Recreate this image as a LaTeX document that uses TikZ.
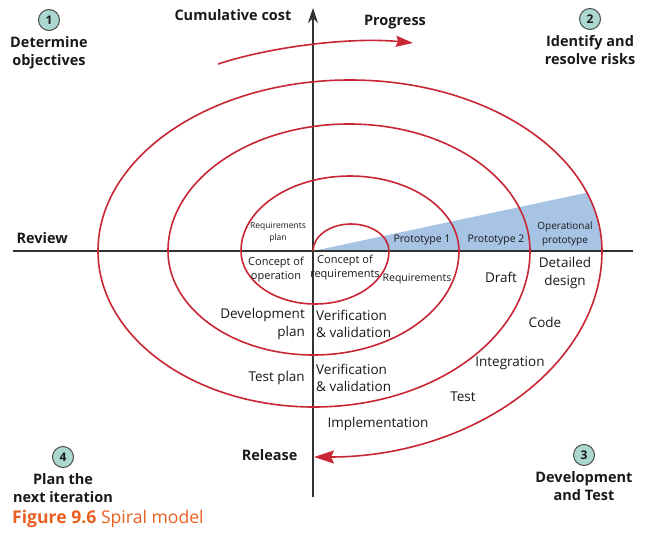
\documentclass[tikz,border=0pt]{standalone}
\usepackage{fontspec}
\setmainfont{Open Sans}
\usepackage{tikz}
\usetikzlibrary{positioning,arrows.meta}
\definecolor{spiralred}{RGB}{200,38,52}
\definecolor{wedgeblue}{RGB}{167,196,228}
\definecolor{badgefill}{RGB}{170,216,208}
\definecolor{captionorange}{RGB}{232,96,32}
\definecolor{axisgray}{RGB}{50,50,50}

\begin{document}
\begin{tikzpicture}[x=1pt,y=1pt,>=Stealth,text=black!90,
  badge/.style={circle,draw=gray!60!black,fill=badgefill,line width=1pt,minimum size=21pt,inner sep=0pt,font=\bfseries\fontsize{12}{12}\selectfont},
  quadrant/.style={align=center,inner sep=1pt,font=\bfseries\fontsize{14.5}{18.5}\selectfont},
  axislabel/.style={font=\bfseries\fontsize{14.5}{17}\selectfont},
  phase/.style={align=center,inner sep=1pt,font=\fontsize{13.5}{17.5}\selectfont},
  smallphase/.style={align=center,inner sep=1pt,font=\fontsize{10.5}{14}\selectfont},
  tinyphase/.style={align=center,inner sep=1pt,font=\fontsize{8.5}{12}\selectfont},
  spiral/.style={spiralred,line width=1.6pt}]
  \useasboundingbox (-313,-287) rectangle (339,251);
  % ---------------- prototype wedge ----------------
  \begin{scope}
    \clip (37,0) ellipse[x radius=252,y radius=171];
    \fill[wedgeblue] (0,0) -- (310,66) -- (310,0) -- cycle;
  \end{scope}
  % ---------------- axes ----------------
  \coordinate (west) at (-300,0);
  \coordinate (east) at (320,0);
  \coordinate (bottom) at (0,-246);
  \coordinate (top) at (0,243);
  \draw[axisgray,line width=1.4pt] (west) -- (east);
  \draw[axisgray,line width=1.4pt,-{Stealth[length=15pt,width=10pt]}] (bottom) -- (top);
  % ---------------- spiral ----------------
  \draw[spiral,-{Stealth[length=20pt,width=13pt,inset=3pt]}] (0,0)
    arc[start angle=180,end angle=0,x radius=38,y radius=27]
    arc[start angle=0,end angle=-180,x radius=74,y radius=53]
    arc[start angle=180,end angle=0,x radius=109,y radius=75]
    arc[start angle=0,end angle=-180,x radius=145.5,y radius=104]
    arc[start angle=180,end angle=0,x radius=181,y radius=127]
    arc[start angle=0,end angle=-180,x radius=216,y radius=156]
    arc[start angle=180,end angle=0,x radius=252,y radius=171]
    arc[start angle=0,end angle=-90,x radius=288,y radius=206];
  % progress arrow
  \coordinate (progstart) at (-95,187);
  \coordinate (progend) at (100,208);
  \draw[spiral,-{Stealth[length=17pt,width=11pt,inset=2pt]}] (progstart) .. controls (-40,205) and (40,214) .. (progend);
  % ---------------- axis labels ----------------
  \node[axislabel,anchor=east] (cost) at (-18,236) {Cumulative cost};
  \node[axislabel] (progress) at (82,229) {Progress};
  \node[axislabel,anchor=west] (review) at (-300,13) {Review};
  \node[axislabel,anchor=east] (release) at (-12,-204) {Release};
  % ---------------- quadrants ----------------
  \node[badge] (q1) at (-264,231) {1};
  \node[quadrant,below=4pt of q1] (q1text) {Determine\\objectives};
  \node[badge] (q2) at (277,232) {2};
  \node[quadrant,below=4pt of q2] (q2text) {Identify and\\resolve risks};
  \node[badge] (q3) at (271,-204) {3};
  \node[quadrant,below=4pt of q3] (q3text) {Development\\and Test};
  \node[badge] (q4) at (-250,-206) {4};
  \node[quadrant,below=4pt of q4] (q4text) {Plan the\\next iteration};
  % ---------------- phases ----------------
  \node[tinyphase] (reqplan) at (-35,19) {Requirements\\plan};
  \node[smallphase] (proto1) at (109,11) {Prototype 1};
  \node[smallphase] (proto2) at (183,11) {Prototype 2};
  \node[smallphase,font=\fontsize{10}{14}\selectfont] (opproto) at (252,17) {Operational\\prototype};
  \node[smallphase,font=\fontsize{11}{14}\selectfont] (conop) at (-37,-19) {Concept of\\operation};
  \node[smallphase,font=\fontsize{11}{14}\selectfont] (conreq) at (32,-17) {Concept of\\requirements};
  \node[smallphase] (reqs) at (104,-28) {Requirements};
  \node[phase] (draft) at (188,-26) {Draft};
  \node[phase] (detail) at (252,-22) {Detailed\\design};
  \node[phase] (code) at (232,-71) {Code};
  \node[phase] (integ) at (197,-112) {Integration};
  \node[phase] (test) at (150,-146) {Test};
  \node[phase] (impl) at (65,-173) {Implementation};
  \node[phase,align=right,anchor=east] (devplan) at (-7,-73) {Development\\plan};
  \node[phase,align=left,anchor=west] (vv1) at (2,-73) {Verification\\\& validation};
  \node[phase,align=right,anchor=east] (testplan) at (-7,-127) {Test plan};
  \node[phase,align=left,anchor=west] (vv2) at (2,-127) {Verification\\\& validation};
  % ---------------- caption ----------------
  \node[anchor=west,inner sep=0pt,text=captionorange,font=\fontsize{17.6}{20}\selectfont] (caption) at (-301,-268) {\textbf{Figure 9.6} Spiral model};
\end{tikzpicture}
\end{document}
